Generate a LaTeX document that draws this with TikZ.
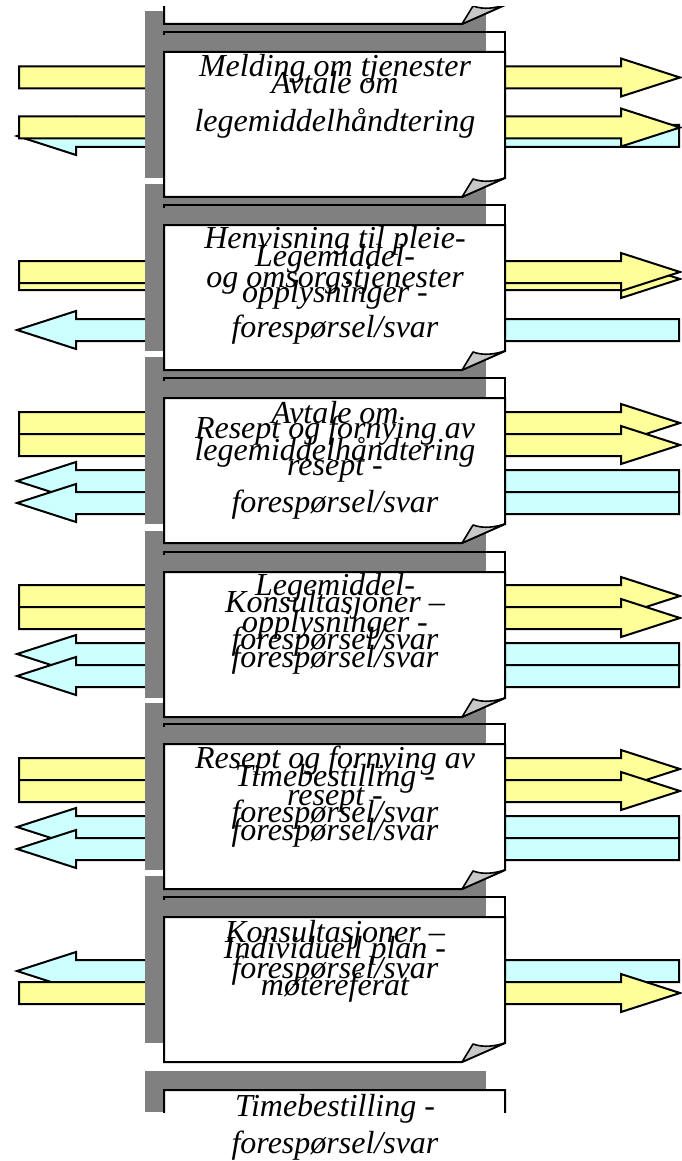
\documentclass[tikz,border=0pt]{standalone}
\usepackage{fontspec}
\setmainfont{Liberation Serif}
\definecolor{ylw}{HTML}{FFFF99}
\definecolor{cyn}{HTML}{CCFFFF}
\definecolor{shd}{HTML}{808080}
\definecolor{curlc}{HTML}{C8C8C8}
\tikzset{
  yarrow/.style={fill=ylw,draw=black,line width=2pt,line join=miter},
  carrow/.style={fill=cyn,draw=black,line width=2pt,line join=miter},
  shadowbar/.style={fill=shd,draw=none},
  pagebox/.style={fill=white,draw=black,line width=2pt},
  curlst/.style={fill=curlc,draw=black,line width=1.6pt,line join=round},
  edge/.style={draw=black,line width=2pt},
  lbl/.style={font=\itshape\fontsize{32}{37}\selectfont,anchor=base,inner sep=0pt}
}
% right-pointing yellow arrow centred on y=#1
\newcommand\yarr[1]{\filldraw[yarrow] (19,#1-11) -- (621,#1-11) -- (621,#1-19) -- (680,#1) -- (621,#1+19) -- (621,#1+11) -- (19,#1+11) -- cycle;}
% left-pointing cyan arrow centred on y=#1
\newcommand\carr[1]{\filldraw[carrow] (679,#1-11) -- (76,#1-11) -- (76,#1-19) -- (17,#1) -- (76,#1+19) -- (76,#1+11) -- (679,#1+11) -- cycle;}
\newcommand\grayb[1]{\fill[shadowbar] (145,#1-41) rectangle (486,#1+126);}
\newcommand\behind[1]{\fill[white] (486,#1-20) rectangle (505,#1);
  \draw[edge] (164,#1-17) -- (164,#1-20) -- (505,#1-20) -- (505,#1);}
\newcommand\pagesheet[1]{\filldraw[pagebox] (164,#1) -- (505,#1) -- (505,#1+126) -- (462,#1+145) -- (164,#1+145) -- cycle;
  \filldraw[curlst] (462,#1+145) -- (473,#1+127) .. controls (484,#1+131) and (495,#1+129) .. (505,#1+126) -- cycle;}
\begin{document}
\begin{tikzpicture}[x=1pt,y=-1pt]
\useasboundingbox (0,0) rectangle (682,1161);
\begin{scope}
\clip (0,7) rectangle (682,1112);
% arrows
\carr{136} \yarr{77.5} \yarr{127.5}
\yarr{279} \yarr{272} \carr{330}
\yarr{423} \yarr{445} \carr{481} \carr{503}
\yarr{596} \yarr{618} \carr{654} \carr{676}
\yarr{769} \yarr{791} \carr{827} \carr{849}
\carr{971} \yarr{993}
% shadows
\grayb{52} \grayb{225} \grayb{398} \grayb{572} \grayb{744} \grayb{917}
\fill[shadowbar] (145,1071) rectangle (486,1112);
% pages behind
\behind{52} \behind{225} \behind{398} \behind{572} \behind{744} \behind{917}
% pages
\pagesheet{-121} \pagesheet{52} \pagesheet{225} \pagesheet{398} \pagesheet{572} \pagesheet{744} \pagesheet{917} \pagesheet{1090}
\end{scope}
% texts
\node[lbl] (a1) at (335,77) {Melding om tjenester};
\node[lbl] (a2) at (335,94) {Avtale om};
\node[lbl] (a3) at (335,132) {legemiddelhåndtering};
\node[lbl] (b1) at (335,248) {Henvisning til pleie-};
\node[lbl] (b2) at (335,287) {og omsorgstjenester};
\node[lbl] (b3) at (335,266) {Legemiddel-};
\node[lbl] (b4) at (335,302) {opplysninger -};
\node[lbl] (b5) at (335,337) {forespørsel/svar};
\node[lbl] (c1) at (335,423) {Avtale om};
\node[lbl] (c2) at (335,460) {legemiddelhåndtering};
\node[lbl] (c3) at (335,438) {Resept og fornying av};
\node[lbl] (c4) at (335,475) {resept -};
\node[lbl] (c5) at (335,512) {forespørsel/svar};
\node[lbl] (d1) at (335,595) {Legemiddel-};
\node[lbl] (d2) at (335,632) {opplysninger -};
\node[lbl] (d3) at (335,667) {forespørsel/svar};
\node[lbl] (d4) at (335,612) {Konsultasjoner –};
\node[lbl] (d5) at (335,649) {forespørsel/svar};
\node[lbl] (e1) at (335,768) {Resept og fornying av};
\node[lbl] (e2) at (335,805) {resept -};
\node[lbl] (e3) at (335,840) {forespørsel/svar};
\node[lbl] (e4) at (335,786) {Timebestilling -};
\node[lbl] (e5) at (335,822) {forespørsel/svar};
\node[lbl] (f1) at (335,942) {Konsultasjoner –};
\node[lbl] (f2) at (335,978) {forespørsel/svar};
\node[lbl] (f3) at (335,958) {Individuell plan -};
\node[lbl] (f4) at (335,995) {møtereferat};
\node[lbl] (g1) at (335,1116) {Timebestilling -};
\node[lbl] (g2) at (335,1153) {forespørsel/svar};
\end{tikzpicture}
\end{document}
